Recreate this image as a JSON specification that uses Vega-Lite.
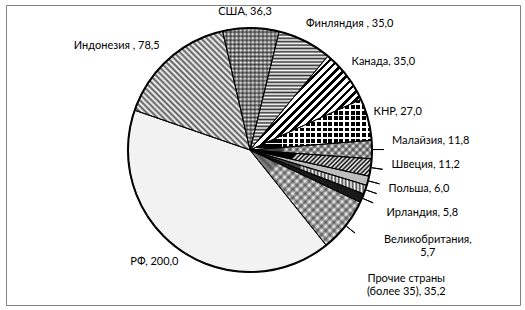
{
  "$schema": "https://vega.github.io/schema/vega-lite/v6.json",
  "width": 525,
  "height": 310,
  "autosize": {"type": "fit", "contains": "padding"},
  "padding": {"left": 6, "top": 5, "right": 5, "bottom": 5},
  "background": "white",
  "view": {"stroke": "#808080", "strokeWidth": 1},
  "config": {"font": "Lato"},
  "data": {"values": [
    {"country": "США", "value": 36.3, "n": 1, "label": "США, 36,3"},
    {"country": "Финляндия", "value": 35.0, "n": 2, "label": "Финляндия , 35,0"},
    {"country": "Канада", "value": 35.0, "n": 3, "label": "Канада, 35,0"},
    {"country": "КНР", "value": 27.0, "n": 4, "label": "КНР, 27,0"},
    {"country": "Малайзия", "value": 11.8, "n": 5, "label": "Малайзия, 11,8"},
    {"country": "Швеция", "value": 11.2, "n": 6, "label": "Швеция, 11,2"},
    {"country": "Польша", "value": 6.0, "n": 7, "label": "Польша, 6,0"},
    {"country": "Ирландия", "value": 5.8, "n": 8, "label": "Ирландия, 5,8"},
    {"country": "Великобритания", "value": 5.7, "n": 9, "label": "Великобритания,\n5,7"},
    {"country": "Прочие страны (более 35)", "value": 35.2, "n": 10, "label": "Прочие страны\n(более 35), 35,2"},
    {"country": "РФ", "value": 200.0, "n": 11, "label": "РФ, 200,0"},
    {"country": "Индонезия", "value": 78.5, "n": 12, "label": "Индонезия , 78,5"}
  ]},
  "layer": [
    {
      "mark": {"type": "arc", "outerRadius": 122, "strokeWidth": 0},
      "encoding": {
        "theta": {"field": "value", "type": "quantitative", "stack": true, "scale": {"range": [-0.22689, 6.05629]}},
        "order": {"field": "n", "type": "quantitative"},
        "x": {"value": 244},
        "y": {"value": 145},
        "fill": {
          "condition": [
            {"test": "datum.n === 1", "value": {"gradient": "linear", "x1": 0, "y1": 0, "x2": 0, "y2": 1, "stops": [
              {"offset":0,"color":"#666"},{"offset":0.0167,"color":"#fff"},{"offset":0.0333,"color":"#666"},{"offset":0.05,"color":"#fff"},{"offset":0.0667,"color":"#666"},{"offset":0.0833,"color":"#fff"},{"offset":0.1,"color":"#666"},{"offset":0.1167,"color":"#fff"},{"offset":0.1333,"color":"#666"},{"offset":0.15,"color":"#fff"},{"offset":0.1667,"color":"#666"},{"offset":0.1833,"color":"#fff"},{"offset":0.2,"color":"#666"},{"offset":0.2167,"color":"#fff"},{"offset":0.2333,"color":"#666"},{"offset":0.25,"color":"#fff"},{"offset":0.2667,"color":"#666"},{"offset":0.2833,"color":"#fff"},{"offset":0.3,"color":"#666"},{"offset":0.3167,"color":"#fff"},{"offset":0.3333,"color":"#666"},{"offset":0.35,"color":"#fff"},{"offset":0.3667,"color":"#666"},{"offset":0.3833,"color":"#fff"},{"offset":0.4,"color":"#666"},{"offset":0.4167,"color":"#fff"},{"offset":0.4333,"color":"#666"},{"offset":0.45,"color":"#fff"},{"offset":0.4667,"color":"#666"},{"offset":0.4833,"color":"#fff"},{"offset":0.5,"color":"#666"},{"offset":0.5167,"color":"#fff"},{"offset":0.5333,"color":"#666"},{"offset":0.55,"color":"#fff"},{"offset":0.5667,"color":"#666"},{"offset":0.5833,"color":"#fff"},{"offset":0.6,"color":"#666"},{"offset":0.6167,"color":"#fff"},{"offset":0.6333,"color":"#666"},{"offset":0.65,"color":"#fff"},{"offset":0.6667,"color":"#666"},{"offset":0.6833,"color":"#fff"},{"offset":0.7,"color":"#666"},{"offset":0.7167,"color":"#fff"},{"offset":0.7333,"color":"#666"},{"offset":0.75,"color":"#fff"},{"offset":0.7667,"color":"#666"},{"offset":0.7833,"color":"#fff"},{"offset":0.8,"color":"#666"},{"offset":0.8167,"color":"#fff"},{"offset":0.8333,"color":"#666"},{"offset":0.85,"color":"#fff"},{"offset":0.8667,"color":"#666"},{"offset":0.8833,"color":"#fff"},{"offset":0.9,"color":"#666"},{"offset":0.9167,"color":"#fff"},{"offset":0.9333,"color":"#666"},{"offset":0.95,"color":"#fff"},{"offset":0.9667,"color":"#666"},{"offset":0.9833,"color":"#fff"},{"offset":1,"color":"#666"}
            ]}},
            {"test": "datum.n === 2", "value": {"gradient": "linear", "x1": 0, "y1": 0, "x2": 0, "y2": 1, "stops": [
              {"offset":0,"color":"#333"},{"offset":0.0143,"color":"#fff"},{"offset":0.0286,"color":"#333"},{"offset":0.0429,"color":"#fff"},{"offset":0.0571,"color":"#333"},{"offset":0.0714,"color":"#fff"},{"offset":0.0857,"color":"#333"},{"offset":0.1,"color":"#fff"},{"offset":0.1143,"color":"#333"},{"offset":0.1286,"color":"#fff"},{"offset":0.1429,"color":"#333"},{"offset":0.1571,"color":"#fff"},{"offset":0.1714,"color":"#333"},{"offset":0.1857,"color":"#fff"},{"offset":0.2,"color":"#333"},{"offset":0.2143,"color":"#fff"},{"offset":0.2286,"color":"#333"},{"offset":0.2429,"color":"#fff"},{"offset":0.2571,"color":"#333"},{"offset":0.2714,"color":"#fff"},{"offset":0.2857,"color":"#333"},{"offset":0.3,"color":"#fff"},{"offset":0.3143,"color":"#333"},{"offset":0.3286,"color":"#fff"},{"offset":0.3429,"color":"#333"},{"offset":0.3571,"color":"#fff"},{"offset":0.3714,"color":"#333"},{"offset":0.3857,"color":"#fff"},{"offset":0.4,"color":"#333"},{"offset":0.4143,"color":"#fff"},{"offset":0.4286,"color":"#333"},{"offset":0.4429,"color":"#fff"},{"offset":0.4571,"color":"#333"},{"offset":0.4714,"color":"#fff"},{"offset":0.4857,"color":"#333"},{"offset":0.5,"color":"#fff"},{"offset":0.5143,"color":"#333"},{"offset":0.5286,"color":"#fff"},{"offset":0.5429,"color":"#333"},{"offset":0.5571,"color":"#fff"},{"offset":0.5714,"color":"#333"},{"offset":0.5857,"color":"#fff"},{"offset":0.6,"color":"#333"},{"offset":0.6143,"color":"#fff"},{"offset":0.6286,"color":"#333"},{"offset":0.6429,"color":"#fff"},{"offset":0.6571,"color":"#333"},{"offset":0.6714,"color":"#fff"},{"offset":0.6857,"color":"#333"},{"offset":0.7,"color":"#fff"},{"offset":0.7143,"color":"#333"},{"offset":0.7286,"color":"#fff"},{"offset":0.7429,"color":"#333"},{"offset":0.7571,"color":"#fff"},{"offset":0.7714,"color":"#333"},{"offset":0.7857,"color":"#fff"},{"offset":0.8,"color":"#333"},{"offset":0.8143,"color":"#fff"},{"offset":0.8286,"color":"#333"},{"offset":0.8429,"color":"#fff"},{"offset":0.8571,"color":"#333"},{"offset":0.8714,"color":"#fff"},{"offset":0.8857,"color":"#333"},{"offset":0.9,"color":"#fff"},{"offset":0.9143,"color":"#333"},{"offset":0.9286,"color":"#fff"},{"offset":0.9429,"color":"#333"},{"offset":0.9571,"color":"#fff"},{"offset":0.9714,"color":"#333"},{"offset":0.9857,"color":"#fff"},{"offset":1,"color":"#333"}
            ]}},
            {"test": "datum.n === 3", "value": {"gradient": "linear", "x1": 0, "y1": 0, "x2": 1.0755, "y2": 0.911, "stops": [
              {"offset":0.36,"color":"#000"},{"offset":0.378,"color":"#000"},{"offset":0.378,"color":"#fff"},{"offset":0.4,"color":"#fff"},
              {"offset":0.4,"color":"#000"},{"offset":0.418,"color":"#000"},{"offset":0.418,"color":"#fff"},{"offset":0.44,"color":"#fff"},
              {"offset":0.44,"color":"#000"},{"offset":0.458,"color":"#000"},{"offset":0.458,"color":"#fff"},{"offset":0.48,"color":"#fff"},
              {"offset":0.48,"color":"#000"},{"offset":0.498,"color":"#000"},{"offset":0.498,"color":"#fff"},{"offset":0.52,"color":"#fff"},
              {"offset":0.52,"color":"#000"},{"offset":0.538,"color":"#000"},{"offset":0.538,"color":"#fff"},{"offset":0.56,"color":"#fff"},
              {"offset":0.56,"color":"#000"},{"offset":0.578,"color":"#000"},{"offset":0.578,"color":"#fff"},{"offset":0.6,"color":"#fff"},
              {"offset":0.6,"color":"#000"},{"offset":0.618,"color":"#000"},{"offset":0.618,"color":"#fff"},{"offset":0.64,"color":"#fff"},
              {"offset":0.64,"color":"#000"},{"offset":0.658,"color":"#000"},{"offset":0.658,"color":"#fff"},{"offset":0.68,"color":"#fff"},
              {"offset":0.68,"color":"#000"},{"offset":0.698,"color":"#000"},{"offset":0.698,"color":"#fff"},{"offset":0.72,"color":"#fff"},
              {"offset":0.72,"color":"#000"},{"offset":0.738,"color":"#000"},{"offset":0.738,"color":"#fff"},{"offset":0.76,"color":"#fff"},
              {"offset":0.76,"color":"#000"},{"offset":0.778,"color":"#000"},{"offset":0.778,"color":"#fff"},{"offset":0.8,"color":"#fff"}
            ]}},
            {"test": "datum.n === 4", "value": {"gradient": "linear", "x1": 0, "y1": 0, "x2": 0, "y2": 1, "stops": [
              {"offset":0,"color":"#000"},{"offset":0.0778,"color":"#000"},{"offset":0.0778,"color":"#fff"},{"offset":0.1111,"color":"#fff"},
              {"offset":0.1111,"color":"#000"},{"offset":0.1889,"color":"#000"},{"offset":0.1889,"color":"#fff"},{"offset":0.2222,"color":"#fff"},
              {"offset":0.2222,"color":"#000"},{"offset":0.3,"color":"#000"},{"offset":0.3,"color":"#fff"},{"offset":0.3333,"color":"#fff"},
              {"offset":0.3333,"color":"#000"},{"offset":0.4111,"color":"#000"},{"offset":0.4111,"color":"#fff"},{"offset":0.4444,"color":"#fff"},
              {"offset":0.4444,"color":"#000"},{"offset":0.5222,"color":"#000"},{"offset":0.5222,"color":"#fff"},{"offset":0.5556,"color":"#fff"},
              {"offset":0.5556,"color":"#000"},{"offset":0.6333,"color":"#000"},{"offset":0.6333,"color":"#fff"},{"offset":0.6667,"color":"#fff"},
              {"offset":0.6667,"color":"#000"},{"offset":0.7444,"color":"#000"},{"offset":0.7444,"color":"#fff"},{"offset":0.7778,"color":"#fff"},
              {"offset":0.7778,"color":"#000"},{"offset":0.8556,"color":"#000"},{"offset":0.8556,"color":"#fff"},{"offset":0.8889,"color":"#fff"},
              {"offset":0.8889,"color":"#000"},{"offset":0.9667,"color":"#000"},{"offset":0.9667,"color":"#fff"},{"offset":1,"color":"#fff"}
            ]}},
            {"test": "datum.n === 5", "value": {"gradient": "linear", "x1": 0, "y1": 0, "x2": 1.1258, "y2": 0.1707, "stops": [
              {"offset":0.3,"color":"#777"},{"offset":0.325,"color":"#fff"},{"offset":0.35,"color":"#777"},{"offset":0.375,"color":"#fff"},{"offset":0.4,"color":"#777"},{"offset":0.425,"color":"#fff"},{"offset":0.45,"color":"#777"},{"offset":0.475,"color":"#fff"},{"offset":0.5,"color":"#777"},{"offset":0.525,"color":"#fff"},{"offset":0.55,"color":"#777"},{"offset":0.575,"color":"#fff"},{"offset":0.6,"color":"#777"},{"offset":0.625,"color":"#fff"},{"offset":0.65,"color":"#777"},{"offset":0.675,"color":"#fff"},{"offset":0.7,"color":"#777"},{"offset":0.725,"color":"#fff"},{"offset":0.75,"color":"#777"},{"offset":0.775,"color":"#fff"},{"offset":0.8,"color":"#777"},{"offset":0.825,"color":"#fff"},{"offset":0.85,"color":"#777"},{"offset":0.875,"color":"#fff"},{"offset":0.9,"color":"#777"},{"offset":0.925,"color":"#fff"},{"offset":0.95,"color":"#777"},{"offset":0.975,"color":"#fff"},{"offset":1,"color":"#777"}
            ]}},
            {"test": "datum.n === 6", "value": {"gradient": "linear", "x1": 0, "y1": 0, "x2": 1.1614, "y2": 0.25, "stops": [
              {"offset":0.34,"color":"#000"},{"offset":0.355,"color":"#fff"},{"offset":0.37,"color":"#000"},{"offset":0.385,"color":"#fff"},{"offset":0.4,"color":"#000"},{"offset":0.415,"color":"#fff"},{"offset":0.43,"color":"#000"},{"offset":0.445,"color":"#fff"},{"offset":0.46,"color":"#000"},{"offset":0.475,"color":"#fff"},{"offset":0.49,"color":"#000"},{"offset":0.505,"color":"#fff"},{"offset":0.52,"color":"#000"},{"offset":0.535,"color":"#fff"},{"offset":0.55,"color":"#000"},{"offset":0.565,"color":"#fff"},{"offset":0.58,"color":"#000"},{"offset":0.595,"color":"#fff"},{"offset":0.61,"color":"#000"},{"offset":0.625,"color":"#fff"},{"offset":0.64,"color":"#000"},{"offset":0.655,"color":"#fff"},{"offset":0.67,"color":"#000"},{"offset":0.685,"color":"#fff"},{"offset":0.7,"color":"#000"},{"offset":0.715,"color":"#fff"},{"offset":0.73,"color":"#000"},{"offset":0.745,"color":"#fff"},{"offset":0.76,"color":"#000"},{"offset":0.775,"color":"#fff"},{"offset":0.79,"color":"#000"},{"offset":0.805,"color":"#fff"},{"offset":0.82,"color":"#000"},{"offset":0.835,"color":"#fff"},{"offset":0.85,"color":"#000"},{"offset":0.865,"color":"#fff"},{"offset":0.88,"color":"#000"},{"offset":0.895,"color":"#fff"},{"offset":0.91,"color":"#000"},{"offset":0.925,"color":"#fff"},{"offset":0.94,"color":"#000"},{"offset":0.955,"color":"#fff"},{"offset":0.97,"color":"#000"},{"offset":0.985,"color":"#fff"},{"offset":1,"color":"#000"}
            ]}},
            {"test": "datum.n === 7", "value": "#bdbdbd"},
            {"test": "datum.n === 8", "value": {"gradient": "linear", "x1": 0, "y1": 0, "x2": 1, "y2": 0, "stops": [
              {"offset":0.43,"color":"#444"},{"offset":0.445,"color":"#fff"},{"offset":0.46,"color":"#444"},{"offset":0.475,"color":"#fff"},{"offset":0.49,"color":"#444"},{"offset":0.505,"color":"#fff"},{"offset":0.52,"color":"#444"},{"offset":0.535,"color":"#fff"},{"offset":0.55,"color":"#444"},{"offset":0.565,"color":"#fff"},{"offset":0.58,"color":"#444"},{"offset":0.595,"color":"#fff"},{"offset":0.61,"color":"#444"},{"offset":0.625,"color":"#fff"},{"offset":0.64,"color":"#444"},{"offset":0.655,"color":"#fff"},{"offset":0.67,"color":"#444"},{"offset":0.685,"color":"#fff"},{"offset":0.7,"color":"#444"},{"offset":0.715,"color":"#fff"},{"offset":0.73,"color":"#444"},{"offset":0.745,"color":"#fff"},{"offset":0.76,"color":"#444"},{"offset":0.775,"color":"#fff"},{"offset":0.79,"color":"#444"},{"offset":0.805,"color":"#fff"},{"offset":0.82,"color":"#444"},{"offset":0.835,"color":"#fff"},{"offset":0.85,"color":"#444"},{"offset":0.865,"color":"#fff"},{"offset":0.88,"color":"#444"},{"offset":0.895,"color":"#fff"},{"offset":0.91,"color":"#444"},{"offset":0.925,"color":"#fff"},{"offset":0.94,"color":"#444"},{"offset":0.955,"color":"#fff"},{"offset":0.97,"color":"#444"},{"offset":0.985,"color":"#fff"},{"offset":1,"color":"#444"}
            ]}},
            {"test": "datum.n === 9", "value": "#1a1a1a"},
            {"test": "datum.n === 10", "value": {"gradient": "linear", "x1": 0, "y1": 0, "x2": 1.0673, "y2": 0.9221, "stops": [
              {"offset":0.2,"color":"#888"},{"offset":0.22,"color":"#fff"},{"offset":0.24,"color":"#888"},{"offset":0.26,"color":"#fff"},{"offset":0.28,"color":"#888"},{"offset":0.3,"color":"#fff"},{"offset":0.32,"color":"#888"},{"offset":0.34,"color":"#fff"},{"offset":0.36,"color":"#888"},{"offset":0.38,"color":"#fff"},{"offset":0.4,"color":"#888"},{"offset":0.42,"color":"#fff"},{"offset":0.44,"color":"#888"},{"offset":0.46,"color":"#fff"},{"offset":0.48,"color":"#888"},{"offset":0.5,"color":"#fff"},{"offset":0.52,"color":"#888"},{"offset":0.54,"color":"#fff"},{"offset":0.56,"color":"#888"},{"offset":0.58,"color":"#fff"},{"offset":0.6,"color":"#888"},{"offset":0.62,"color":"#fff"},{"offset":0.64,"color":"#888"},{"offset":0.66,"color":"#fff"},{"offset":0.68,"color":"#888"},{"offset":0.7,"color":"#fff"},{"offset":0.72,"color":"#888"},{"offset":0.74,"color":"#fff"},{"offset":0.76,"color":"#888"},{"offset":0.78,"color":"#fff"},{"offset":0.8,"color":"#888"},{"offset":0.82,"color":"#fff"},{"offset":0.84,"color":"#888"},{"offset":0.86,"color":"#fff"}
            ]}},
            {"test": "datum.n === 11", "value": "#f2f2f2"},
            {"test": "datum.n === 12", "value": {"gradient": "linear", "x1": 0, "y1": 1, "x2": 0.9844, "y2": -0.0151, "stops": [
              {"offset":0.16,"color":"#555"},{"offset":0.1725,"color":"#fff"},{"offset":0.185,"color":"#555"},{"offset":0.1975,"color":"#fff"},{"offset":0.21,"color":"#555"},{"offset":0.2225,"color":"#fff"},{"offset":0.235,"color":"#555"},{"offset":0.2475,"color":"#fff"},{"offset":0.26,"color":"#555"},{"offset":0.2725,"color":"#fff"},{"offset":0.285,"color":"#555"},{"offset":0.2975,"color":"#fff"},{"offset":0.31,"color":"#555"},{"offset":0.3225,"color":"#fff"},{"offset":0.335,"color":"#555"},{"offset":0.3475,"color":"#fff"},{"offset":0.36,"color":"#555"},{"offset":0.3725,"color":"#fff"},{"offset":0.385,"color":"#555"},{"offset":0.3975,"color":"#fff"},{"offset":0.41,"color":"#555"},{"offset":0.4225,"color":"#fff"},{"offset":0.435,"color":"#555"},{"offset":0.4475,"color":"#fff"},{"offset":0.46,"color":"#555"},{"offset":0.4725,"color":"#fff"},{"offset":0.485,"color":"#555"},{"offset":0.4975,"color":"#fff"},{"offset":0.51,"color":"#555"},{"offset":0.5225,"color":"#fff"},{"offset":0.535,"color":"#555"},{"offset":0.5475,"color":"#fff"},{"offset":0.56,"color":"#555"},{"offset":0.5725,"color":"#fff"},{"offset":0.585,"color":"#555"},{"offset":0.5975,"color":"#fff"},{"offset":0.61,"color":"#555"},{"offset":0.6225,"color":"#fff"},{"offset":0.635,"color":"#555"},{"offset":0.6475,"color":"#fff"},{"offset":0.66,"color":"#555"},{"offset":0.6725,"color":"#fff"},{"offset":0.685,"color":"#555"},{"offset":0.6975,"color":"#fff"},{"offset":0.71,"color":"#555"},{"offset":0.7225,"color":"#fff"},{"offset":0.735,"color":"#555"},{"offset":0.7475,"color":"#fff"},{"offset":0.76,"color":"#555"},{"offset":0.7725,"color":"#fff"},{"offset":0.785,"color":"#555"},{"offset":0.7975,"color":"#fff"},{"offset":0.81,"color":"#555"},{"offset":0.8225,"color":"#fff"},{"offset":0.835,"color":"#555"},{"offset":0.8475,"color":"#fff"},{"offset":0.86,"color":"#555"},{"offset":0.8725,"color":"#fff"},{"offset":0.885,"color":"#555"},{"offset":0.8975,"color":"#fff"},{"offset":0.91,"color":"#555"}
            ]}}
          ],
          "value": "#fff"
        }
      }
    },
    {
      "mark": {"type": "arc", "outerRadius": 122, "stroke": "#000", "strokeWidth": 1},
      "encoding": {
        "theta": {"field": "value", "type": "quantitative", "stack": true},
        "order": {"field": "n", "type": "quantitative"},
        "x": {"value": 244},
        "y": {"value": 145},
        "fill": {
          "condition": [
            {"test": "datum.n === 1", "value": {"gradient": "linear", "x1": 0, "y1": 0, "x2": 1, "y2": 0, "stops": [
              {"offset":0,"color":"rgba(0,0,0,0.55)"},{"offset":0.0357,"color":"rgba(0,0,0,0)"},{"offset":0.0714,"color":"rgba(0,0,0,0.55)"},{"offset":0.1071,"color":"rgba(0,0,0,0)"},{"offset":0.1429,"color":"rgba(0,0,0,0.55)"},{"offset":0.1786,"color":"rgba(0,0,0,0)"},{"offset":0.2143,"color":"rgba(0,0,0,0.55)"},{"offset":0.25,"color":"rgba(0,0,0,0)"},{"offset":0.2857,"color":"rgba(0,0,0,0.55)"},{"offset":0.3214,"color":"rgba(0,0,0,0)"},{"offset":0.3571,"color":"rgba(0,0,0,0.55)"},{"offset":0.3929,"color":"rgba(0,0,0,0)"},{"offset":0.4286,"color":"rgba(0,0,0,0.55)"},{"offset":0.4643,"color":"rgba(0,0,0,0)"},{"offset":0.5,"color":"rgba(0,0,0,0.55)"},{"offset":0.5357,"color":"rgba(0,0,0,0)"},{"offset":0.5714,"color":"rgba(0,0,0,0.55)"},{"offset":0.6071,"color":"rgba(0,0,0,0)"},{"offset":0.6429,"color":"rgba(0,0,0,0.55)"},{"offset":0.6786,"color":"rgba(0,0,0,0)"},{"offset":0.7143,"color":"rgba(0,0,0,0.55)"},{"offset":0.75,"color":"rgba(0,0,0,0)"},{"offset":0.7857,"color":"rgba(0,0,0,0.55)"},{"offset":0.8214,"color":"rgba(0,0,0,0)"},{"offset":0.8571,"color":"rgba(0,0,0,0.55)"},{"offset":0.8929,"color":"rgba(0,0,0,0)"},{"offset":0.9286,"color":"rgba(0,0,0,0.55)"},{"offset":0.9643,"color":"rgba(0,0,0,0)"},{"offset":1,"color":"rgba(0,0,0,0.55)"}
            ]}},
            {"test": "datum.n === 4", "value": {"gradient": "linear", "x1": 0, "y1": 0, "x2": 1, "y2": 0, "stops": [
              {"offset":0.26,"color":"rgba(0,0,0,0)"},{"offset":0.26,"color":"#fff"},{"offset":0.2739,"color":"#fff"},{"offset":0.2739,"color":"rgba(0,0,0,0)"},
              {"offset":0.3062,"color":"rgba(0,0,0,0)"},{"offset":0.3062,"color":"#fff"},{"offset":0.3201,"color":"#fff"},{"offset":0.3201,"color":"rgba(0,0,0,0)"},
              {"offset":0.3524,"color":"rgba(0,0,0,0)"},{"offset":0.3524,"color":"#fff"},{"offset":0.3663,"color":"#fff"},{"offset":0.3663,"color":"rgba(0,0,0,0)"},
              {"offset":0.3986,"color":"rgba(0,0,0,0)"},{"offset":0.3986,"color":"#fff"},{"offset":0.4125,"color":"#fff"},{"offset":0.4125,"color":"rgba(0,0,0,0)"},
              {"offset":0.4448,"color":"rgba(0,0,0,0)"},{"offset":0.4448,"color":"#fff"},{"offset":0.4587,"color":"#fff"},{"offset":0.4587,"color":"rgba(0,0,0,0)"},
              {"offset":0.491,"color":"rgba(0,0,0,0)"},{"offset":0.491,"color":"#fff"},{"offset":0.5049,"color":"#fff"},{"offset":0.5049,"color":"rgba(0,0,0,0)"},
              {"offset":0.5372,"color":"rgba(0,0,0,0)"},{"offset":0.5372,"color":"#fff"},{"offset":0.5511,"color":"#fff"},{"offset":0.5511,"color":"rgba(0,0,0,0)"},
              {"offset":0.5834,"color":"rgba(0,0,0,0)"},{"offset":0.5834,"color":"#fff"},{"offset":0.5973,"color":"#fff"},{"offset":0.5973,"color":"rgba(0,0,0,0)"},
              {"offset":0.6296,"color":"rgba(0,0,0,0)"},{"offset":0.6296,"color":"#fff"},{"offset":0.6435,"color":"#fff"},{"offset":0.6435,"color":"rgba(0,0,0,0)"},
              {"offset":0.6758,"color":"rgba(0,0,0,0)"},{"offset":0.6758,"color":"#fff"},{"offset":0.6897,"color":"#fff"},{"offset":0.6897,"color":"rgba(0,0,0,0)"},
              {"offset":0.722,"color":"rgba(0,0,0,0)"},{"offset":0.722,"color":"#fff"},{"offset":0.7359,"color":"#fff"},{"offset":0.7359,"color":"rgba(0,0,0,0)"},
              {"offset":0.7682,"color":"rgba(0,0,0,0)"},{"offset":0.7682,"color":"#fff"},{"offset":0.7821,"color":"#fff"},{"offset":0.7821,"color":"rgba(0,0,0,0)"},
              {"offset":0.8144,"color":"rgba(0,0,0,0)"},{"offset":0.8144,"color":"#fff"},{"offset":0.8283,"color":"#fff"},{"offset":0.8283,"color":"rgba(0,0,0,0)"},
              {"offset":0.8606,"color":"rgba(0,0,0,0)"},{"offset":0.8606,"color":"#fff"},{"offset":0.8745,"color":"#fff"},{"offset":0.8745,"color":"rgba(0,0,0,0)"},
              {"offset":0.9068,"color":"rgba(0,0,0,0)"},{"offset":0.9068,"color":"#fff"},{"offset":0.9207,"color":"#fff"},{"offset":0.9207,"color":"rgba(0,0,0,0)"},
              {"offset":0.953,"color":"rgba(0,0,0,0)"},{"offset":0.953,"color":"#fff"},{"offset":0.9669,"color":"#fff"},{"offset":0.9669,"color":"rgba(0,0,0,0)"},
              {"offset":1,"color":"rgba(0,0,0,0)"}
            ]}},
            {"test": "datum.n === 5", "value": {"gradient": "linear", "x1": 0, "y1": 1, "x2": 1.1258, "y2": 0.8293, "stops": [
              {"offset":0.3,"color":"rgba(0,0,0,0.45)"},{"offset":0.325,"color":"rgba(0,0,0,0)"},{"offset":0.35,"color":"rgba(0,0,0,0.45)"},{"offset":0.375,"color":"rgba(0,0,0,0)"},{"offset":0.4,"color":"rgba(0,0,0,0.45)"},{"offset":0.425,"color":"rgba(0,0,0,0)"},{"offset":0.45,"color":"rgba(0,0,0,0.45)"},{"offset":0.475,"color":"rgba(0,0,0,0)"},{"offset":0.5,"color":"rgba(0,0,0,0.45)"},{"offset":0.525,"color":"rgba(0,0,0,0)"},{"offset":0.55,"color":"rgba(0,0,0,0.45)"},{"offset":0.575,"color":"rgba(0,0,0,0)"},{"offset":0.6,"color":"rgba(0,0,0,0.45)"},{"offset":0.625,"color":"rgba(0,0,0,0)"},{"offset":0.65,"color":"rgba(0,0,0,0.45)"},{"offset":0.675,"color":"rgba(0,0,0,0)"},{"offset":0.7,"color":"rgba(0,0,0,0.45)"},{"offset":0.725,"color":"rgba(0,0,0,0)"},{"offset":0.75,"color":"rgba(0,0,0,0.45)"},{"offset":0.775,"color":"rgba(0,0,0,0)"},{"offset":0.8,"color":"rgba(0,0,0,0.45)"},{"offset":0.825,"color":"rgba(0,0,0,0)"},{"offset":0.85,"color":"rgba(0,0,0,0.45)"},{"offset":0.875,"color":"rgba(0,0,0,0)"},{"offset":0.9,"color":"rgba(0,0,0,0.45)"},{"offset":0.925,"color":"rgba(0,0,0,0)"},{"offset":0.95,"color":"rgba(0,0,0,0.45)"},{"offset":0.975,"color":"rgba(0,0,0,0)"},{"offset":1,"color":"rgba(0,0,0,0.45)"}
            ]}},
            {"test": "datum.n === 10", "value": {"gradient": "linear", "x1": 0, "y1": 1, "x2": 1.0673, "y2": 0.0779, "stops": [
              {"offset":0.32,"color":"rgba(0,0,0,0.4)"},{"offset":0.34,"color":"rgba(0,0,0,0)"},{"offset":0.36,"color":"rgba(0,0,0,0.4)"},{"offset":0.38,"color":"rgba(0,0,0,0)"},{"offset":0.4,"color":"rgba(0,0,0,0.4)"},{"offset":0.42,"color":"rgba(0,0,0,0)"},{"offset":0.44,"color":"rgba(0,0,0,0.4)"},{"offset":0.46,"color":"rgba(0,0,0,0)"},{"offset":0.48,"color":"rgba(0,0,0,0.4)"},{"offset":0.5,"color":"rgba(0,0,0,0)"},{"offset":0.52,"color":"rgba(0,0,0,0.4)"},{"offset":0.54,"color":"rgba(0,0,0,0)"},{"offset":0.56,"color":"rgba(0,0,0,0.4)"},{"offset":0.58,"color":"rgba(0,0,0,0)"},{"offset":0.6,"color":"rgba(0,0,0,0.4)"},{"offset":0.62,"color":"rgba(0,0,0,0)"},{"offset":0.64,"color":"rgba(0,0,0,0.4)"},{"offset":0.66,"color":"rgba(0,0,0,0)"},{"offset":0.68,"color":"rgba(0,0,0,0.4)"},{"offset":0.7,"color":"rgba(0,0,0,0)"},{"offset":0.72,"color":"rgba(0,0,0,0.4)"},{"offset":0.74,"color":"rgba(0,0,0,0)"},{"offset":0.76,"color":"rgba(0,0,0,0.4)"},{"offset":0.78,"color":"rgba(0,0,0,0)"}
            ]}}
          ],
          "value": "transparent"
        }
      }
    },
    {
      "transform": [{"aggregate": [{"op": "sum", "field": "value", "as": "total"}]}],
      "mark": {"type": "arc", "outerRadius": 122, "fill": null, "stroke": "#000", "strokeWidth": 2},
      "encoding": {
        "theta": {"value": 0},
        "theta2": {"value": 6.3},
        "x": {"value": 244},
        "y": {"value": 145}
      }
    },
    {
      "mark": {"type": "arc", "innerRadius": 123, "outerRadius": 134, "padAngle": 3, "fill": null, "stroke": "#000", "strokeWidth": 1},
      "encoding": {
        "theta": {"field": "value", "type": "quantitative", "stack": true},
        "order": {"field": "n", "type": "quantitative"},
        "x": {"value": 244},
        "y": {"value": 145},
        "strokeOpacity": {"condition": {"test": "datum.n >= 5 && datum.n <= 10", "value": 1}, "value": 0}
      }
    },
    {
      "mark": {
        "type": "text",
        "radius": 138,
        "fontSize": 11,
        "color": "#000",
        "lineBreak": "\n",
        "baseline": "middle",
        "align": {"expr": "(datum.n === 1 || datum.n === 9 || datum.n === 10) ? 'center' : ((datum.n === 11 || datum.n === 12) ? 'right' : 'left')"},
        "dx": {"expr": "[-6, -6, -8, -10, 4, 5, 5, 6, 51, 48, 8, 2][datum.n - 1]"},
        "dy": {"expr": "[0, -3, -4, -3, -9, -5, 4, 18, 36, 43, -1, -1][datum.n - 1]"}
      },
      "encoding": {
        "theta": {"field": "value", "type": "quantitative", "stack": true},
        "order": {"field": "n", "type": "quantitative"},
        "x": {"value": 244},
        "y": {"value": 145},
        "text": {"field": "label", "type": "nominal"}
      }
    }
  ]
}
